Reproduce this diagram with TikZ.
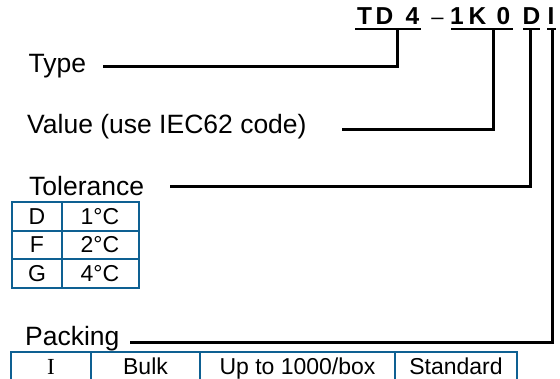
\documentclass[tikz,border=0pt]{standalone}
\usepackage{fontspec}
\setmainfont{Liberation Sans}
\newfontfamily\serifI{Liberation Serif}
\definecolor{tblue}{RGB}{14,96,146}
\begin{document}
\begin{tikzpicture}[x=1pt,y=-1pt,
  lbl/.style={anchor=base west,inner sep=0pt,font=\fontsize{26.5}{29}\selectfont},
  code/.style={anchor=base,inner sep=0pt,font=\fontsize{24.5}{26}\selectfont\bfseries},
  cell/.style={anchor=base,inner sep=0pt,font=\fontsize{23}{26}\selectfont},
  conn/.style={line width=3pt},
  uline/.style={line width=2.2pt},
  grid/.style={draw=tblue,line width=2pt}]
\useasboundingbox (0,0) rectangle (560,378);
\clip (0,0) rectangle (560,378);
% code letters
\node[code] (c1) at (364.5,24) {T};
\node[code] (c2) at (384.5,24) {D};
\node[code] (c3) at (412.5,24) {4};
\node[code,font=\fontsize{22}{24}\selectfont] (c4) at (437.5,24) {–};
\node[code] (c5) at (457,24) {1};
\node[code] (c6) at (477.5,24) {K};
\node[code] (c7) at (503.5,24) {0};
\node[code] (c8) at (531.5,24) {D};
\node[code] (c9) at (551,24) {I};
% underlines
\draw[uline] (355,29.3) -- (421,29.3);
\draw[uline] (451,29.3) -- (513,29.3);
\draw[uline] (523,29.3) -- (540,29.3);
\draw[uline] (547,29.3) -- (556,29.3);
\coordinate (u1) at (397,29.3);
\coordinate (u2) at (493,29.3);
\coordinate (u3) at (530,29.3);
\coordinate (u4) at (552,29.3);
% labels
\node[lbl] (type) at (28.5,72.3) {Type};
\node[lbl] (value) at (27,133.5) {Value (use IEC62 code)};
\node[lbl] (tol) at (29,195) {Tolerance};
\node[lbl] (pack) at (25,345.7) {Packing};
\coordinate (s1) at (103,66.7);
\coordinate (s2) at (342,129.3);
\coordinate (s3) at (170,186.5);
\coordinate (s4) at (130,342.3);
% connectors
\draw[conn] (s1) -- (s1 -| u1) -- (u1);
\draw[conn] (s2) -- (s2 -| u2) -- (u2);
\draw[conn] (s3) -- (s3 -| u3) -- (u3);
\draw[conn] (s4) -- (s4 -| u4) -- (u4);
% tolerance table
\draw[grid] (11.5,202) rectangle (138.5,288);
\draw[grid] (62,202) -- (62,288);
\draw[grid] (11.5,230.5) -- (138.5,230.5);
\draw[grid] (11.5,259) -- (138.5,259);
\node[cell] (tD) at (37,224) {D};
\node[cell] (t1) at (100,224) {1°C};
\node[cell] (tF) at (37,252.5) {F};
\node[cell] (t2) at (100,252.5) {2°C};
\node[cell] (tG) at (37,281) {G};
\node[cell] (t4) at (100,281) {4°C};
% packing table
\draw[grid] (10.5,352) rectangle (516.5,400);
\draw[grid] (91,352) -- (91,400);
\draw[grid] (200,352) -- (200,400);
\draw[grid] (395,352) -- (395,400);
\node[cell,font=\fontsize{23}{26}\selectfont\serifI] (pI) at (51,374) {I};
\node[cell] (pB) at (145.5,374) {Bulk};
\node[cell] (pU) at (297.5,374) {Up to 1000/box};
\node[cell] (pS) at (456,374) {Standard};
\end{tikzpicture}
\end{document}
